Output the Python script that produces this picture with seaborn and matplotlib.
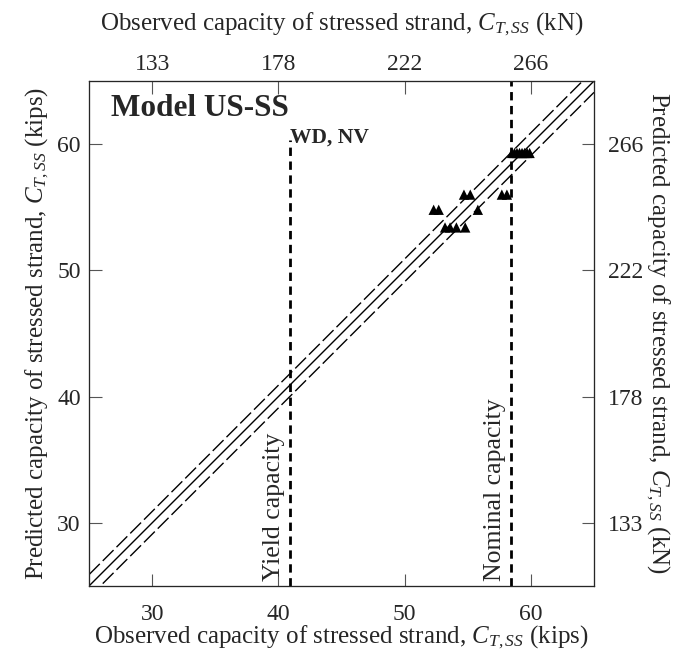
import numpy as np
import pandas as pd
import seaborn as sns
import matplotlib.pyplot as plt

sns.set_style('ticks')
plt.rcParams['font.family'] = ['Liberation Serif', 'DejaVu Serif']
plt.rcParams['mathtext.fontset'] = 'custom'
plt.rcParams['mathtext.rm'] = 'Liberation Serif'
plt.rcParams['mathtext.it'] = 'Liberation Serif:italic'
plt.rcParams['mathtext.bf'] = 'Liberation Serif:bold'

# Observed vs predicted stressed strand capacity (kips)
observed = [52.3, 52.7, 55.8, 54.7, 55.2, 57.7, 58.1,
            53.2, 53.6, 54.1, 54.8,
            58.5, 58.7, 58.9, 59.1, 59.3, 59.5, 59.7, 59.9]
predicted = [54.8, 54.8, 54.8, 56.0, 56.0, 56.0, 56.0,
             53.4, 53.4, 53.4, 53.4,
             59.3, 59.3, 59.3, 59.3, 59.3, 59.3, 59.3, 59.3]

kip_ticks = [30, 40, 50, 60]
kn_labels = ['133', '178', '222', '266']
yield_cap = 40.9
nominal_cap = 58.4
band = 0.9
lims = [25, 65]

df = pd.DataFrame({'observed': observed, 'predicted': predicted})

fig = plt.figure(figsize=(6.91, 6.59), dpi=100)
ax = fig.add_axes([89 / 691, 1 - 586 / 659, 505 / 691, 505 / 659])

# 1:1 line and band
line = np.array(lims)
ax.plot(line, line, color='black', lw=1)
ax.plot(line, line + band, color='black', lw=1, linestyle=(0, (11, 3)))
ax.plot(line, line - band, color='black', lw=1, linestyle=(0, (11, 3)))

# capacity lines
ax.plot([yield_cap, yield_cap], [25, 60.3], color='black', lw=2, linestyle=(0, (3, 2)))
ax.plot([nominal_cap, nominal_cap], [25, 65], color='black', lw=2, linestyle=(0, (3, 2)))
ax.text(yield_cap - 0.35, 25.4, 'Yield capacity', rotation=90, ha='right', va='bottom', fontsize=18.5)
ax.text(nominal_cap - 0.35, 25.4, 'Nominal capacity', rotation=90, ha='right', va='bottom', fontsize=18.5)

sns.scatterplot(data=df, x='observed', y='predicted', marker='^', s=55,
                color='black', edgecolor='none', ax=ax, zorder=5)

fs_tick = 17
fs_lab = 18
ax.set_xlim(lims)
ax.set_ylim(lims)
ax.set_xticks(kip_ticks)
ax.set_yticks(kip_ticks)
ax.tick_params(direction='in', length=9, labelsize=fs_tick, color='#555555')
ax.tick_params(axis='x', pad=13)
ax.tick_params(axis='y', pad=6)
ax.set_xlabel(r'Observed capacity of stressed strand, $C_{T,SS}$ (kips)', fontsize=fs_lab, labelpad=-1)
ax.set_ylabel(r'Predicted capacity of stressed strand, $C_{T,SS}$ (kips)', fontsize=fs_lab, labelpad=4)
for s in ax.spines.values():
    s.set_color('#444444')

# secondary axes in kN
axt = ax.twiny()
axt.set_xlim(lims)
axt.set_xticks(kip_ticks)
axt.set_xticklabels(kn_labels)
axt.tick_params(direction='in', length=9, labelsize=fs_tick, color='#555555', pad=4.5)
axt.set_xlabel(r'Observed capacity of stressed strand, $C_{T,SS}$ (kN)', fontsize=fs_lab, labelpad=17)

axr = ax.twinx()
axr.set_ylim(lims)
axr.set_yticks(kip_ticks)
axr.set_yticklabels(kn_labels)
axr.tick_params(direction='in', length=9, labelsize=fs_tick, color='#555555', pad=10)
axr.set_ylabel(r'Predicted capacity of stressed strand, $C_{T,SS}$ (kN)', fontsize=fs_lab,
               rotation=270, labelpad=20)

t1 = ax.text(0.043, 0.93, 'Model US-SS', transform=ax.transAxes, fontsize=22.5,
             fontweight='bold', ha='left', va='baseline')
ax.annotate('WD, NV', xy=(1, 0), xycoords=t1, xytext=(1, -3), textcoords='offset points',
            fontsize=15.5, fontweight='bold', ha='left', va='top')

fig.savefig('out.png', dpi=100)
